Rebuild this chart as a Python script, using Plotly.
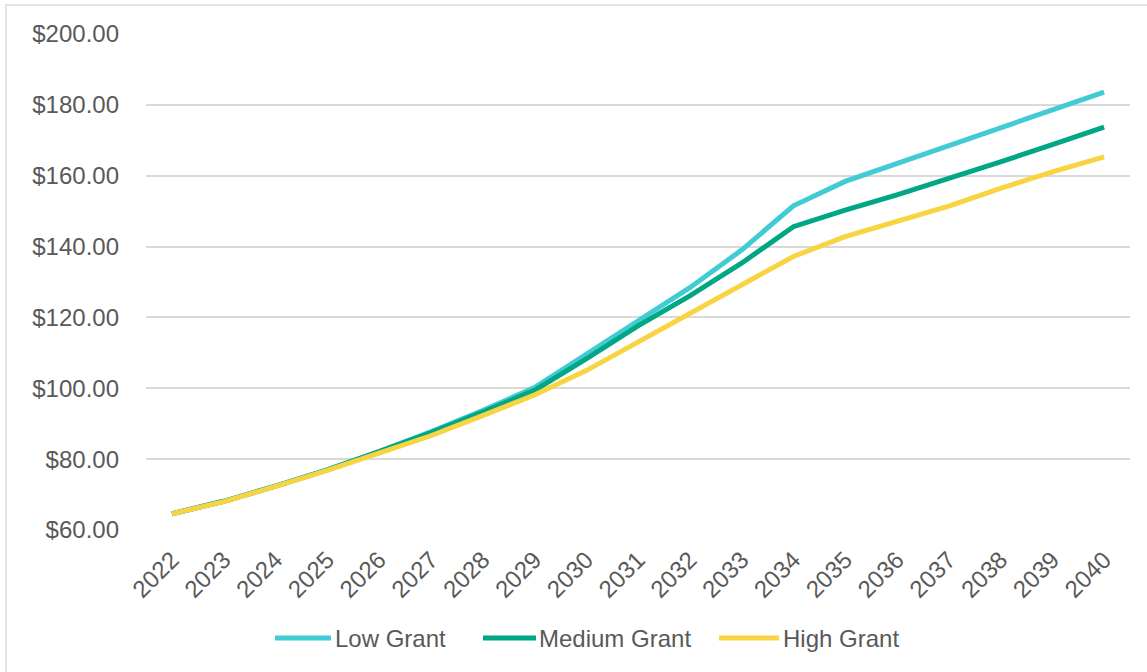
import plotly.graph_objects as go

# Projected cost per scenario, 2022-2040
years = [str(y) for y in range(2022, 2041)]

low_grant = [64.6, 68.1, 72.4, 77.0, 82.1, 87.7, 93.7, 100.2, 109.6, 118.9,
             128.4, 139.0, 151.5, 158.4, 163.5, 168.4, 173.6, 178.7, 183.6]
medium_grant = [64.6, 68.1, 72.4, 77.0, 82.1, 87.5, 93.3, 99.4, 108.3, 117.6,
                126.1, 135.3, 145.6, 150.3, 154.6, 159.2, 163.9, 168.8, 173.7]
high_grant = [64.6, 68.0, 72.3, 76.8, 81.7, 86.6, 92.3, 98.1, 105.0, 113.0,
              121.2, 129.1, 137.2, 142.8, 147.0, 151.4, 156.4, 161.1, 165.3]

series_names = ["Low Grant", "Medium Grant", "High Grant"]
series_colors = ["#41CBD4", "#00A785", "#F8D443"]
series_values = [low_grant, medium_grant, high_grant]

FONT = "Liberation Sans, Arial, sans-serif"
TEXT_COLOR = "#595959"
GRID_COLOR = "#D9D9D9"
FONT_SIZE = 24

fig = go.Figure()
for name, color, values in zip(series_names, series_colors, series_values):
    fig.add_trace(go.Scatter(
        x=years, y=values, name=name, mode="lines",
        line=dict(color=color, width=5),
        showlegend=False,
    ))

# Paper-coordinate helpers for the plot area (left 146, right 1130, top 34, bottom 530)
PL, PR, PT, PB = 146, 1130, 34, 530
def px_x(px):
    return (px - PL) / (PR - PL)
def px_y(py):
    return (PB - py) / (PB - PT)

shapes = [
    # outer chart border
    dict(type="rect", xref="paper", yref="paper",
         x0=px_x(6), x1=px_x(1160), y0=px_y(680), y1=px_y(5),
         line=dict(color=GRID_COLOR, width=1.5), fillcolor="rgba(0,0,0,0)",
         layer="below"),
]
annotations = []

# Legend row along the bottom
legend_items = [(275, 331, 333), (483, 536, 537), (719, 779, 781)]
legend_y = 638
for (lx0, lx1, tx), name, color in zip(legend_items, series_names, series_colors):
    shapes.append(dict(type="line", xref="paper", yref="paper",
                       x0=px_x(lx0), x1=px_x(lx1), y0=px_y(legend_y), y1=px_y(legend_y),
                       line=dict(color=color, width=5)))
    annotations.append(dict(xref="paper", yref="paper", x=px_x(tx), y=px_y(legend_y),
                            text=name, showarrow=False, xanchor="left", yanchor="middle",
                            font=dict(family=FONT, size=FONT_SIZE, color=TEXT_COLOR)))

fig.update_layout(
    width=1147, height=672,
    margin=dict(l=PL, r=1147 - PR, t=PT, b=672 - PB),
    paper_bgcolor="white", plot_bgcolor="white",
    font=dict(family=FONT, size=FONT_SIZE, color=TEXT_COLOR),
    shapes=shapes, annotations=annotations,
    showlegend=False,
)
fig.update_xaxes(
    type="category", range=[-0.5, len(years) - 0.5],
    tickangle=-45, showgrid=False, zeroline=False, showline=False,
    ticklabelstandoff=10,
    tickfont=dict(family=FONT, size=FONT_SIZE, color=TEXT_COLOR),
)
fig.update_yaxes(
    range=[60, 200], dtick=20, tickprefix="$", tickformat=".2f",
    showgrid=True, gridcolor=GRID_COLOR, gridwidth=1.5,
    zeroline=False, showline=False, ticklabelstandoff=26,
    tickfont=dict(family=FONT, size=FONT_SIZE, color=TEXT_COLOR),
)

fig.write_html("out.html")
